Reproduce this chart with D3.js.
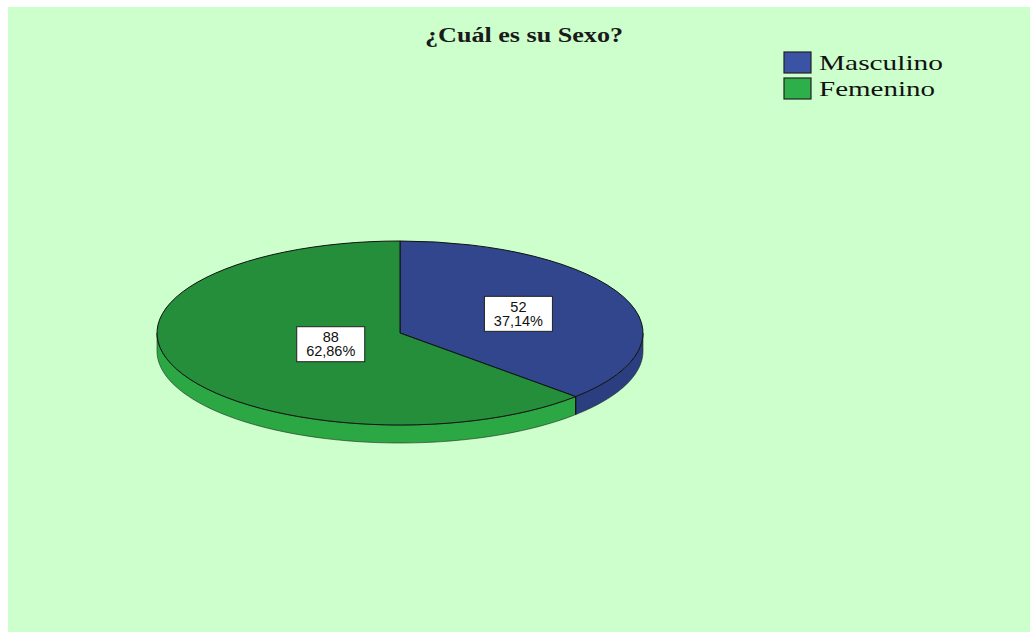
<!DOCTYPE html>
<html>
<head>
<meta charset="utf-8">
<script src="https://cdn.jsdelivr.net/npm/d3@7"></script>
<style>
  html, body { margin: 0; padding: 0; background: #ffffff; }
  svg { display: block; }
</style>
</head>
<body>
<svg id="chart" width="1030" height="633"></svg>
<script>
// ---- data ----
const title = "¿Cuál es su Sexo?";
const categories = ["Masculino", "Femenino"];
const counts = [52, 88];
const percentLabels = ["37,14%", "62,86%"];

// ---- style ----
const topColors = ["#31468C", "#248E3A"];
const sideColors = ["#2B3E80", "#2BA844"];
const legendColors = ["#3A53A4", "#2DB04A"];
const labelFrac = [0.53, 0.31];

const W = 1030, H = 633;
const svg = d3.select("#chart");

// panel
svg.append("rect").attr("x", 8).attr("y", 7).attr("width", W - 8).attr("height", H - 8)
  .attr("fill", "#CCFFCC");

// title
svg.append("text")
  .attr("x", 524).attr("y", 42)
  .attr("text-anchor", "middle")
  .attr("font-family", "Liberation Serif, Times New Roman, serif")
  .attr("font-weight", "bold")
  .attr("font-size", 20)
  .attr("textLength", 198)
  .attr("lengthAdjust", "spacingAndGlyphs")
  .attr("fill", "#1a1a1a")
  .text(title);

// pie geometry
const cx = 400, cy = 333, rx = 243, ry = 92, depth = 18;
const pie = d3.pie().sort(null).value(d => d)(counts);

const pt = a => [cx + rx * Math.sin(a), cy - ry * Math.cos(a)];

// side walls (front half: angles between PI/2 and 3PI/2)
const g = svg.append("g");
pie.forEach((p, i) => {
  const a0 = Math.max(p.startAngle, Math.PI / 2);
  const a1 = Math.min(p.endAngle, 3 * Math.PI / 2);
  if (a1 <= a0) return;
  const n = 60;
  const top = d3.range(n + 1).map(k => pt(a0 + (a1 - a0) * k / n));
  const bottom = top.slice().reverse().map(([x, y]) => [x, y + depth]);
  g.append("path")
    .attr("d", d3.line()(top.concat(bottom)) + "Z")
    .attr("fill", sideColors[i])
    .attr("stroke", "#1e2a1e")
    .attr("stroke-width", 0.6);
});

// top slices via d3.arc scaled into an ellipse
const arc = d3.arc().innerRadius(0).outerRadius(rx);
const topG = svg.append("g")
  .attr("transform", `translate(${cx},${cy}) scale(1,${ry / rx})`);
topG.selectAll("path").data(pie).join("path")
  .attr("d", arc)
  .attr("fill", (d, i) => topColors[i])
  .attr("stroke", "#111")
  .attr("stroke-width", 1)
  .attr("vector-effect", "non-scaling-stroke");

// divider edge on the side at the slice boundary that faces front
pie.forEach(p => {
  const a = p.endAngle;
  if (a > Math.PI / 2 && a < 3 * Math.PI / 2) {
    const [x, y] = pt(a);
    g.append("line").attr("x1", x).attr("y1", y).attr("x2", x).attr("y2", y + depth)
      .attr("stroke", "#111").attr("stroke-width", 1.2);
  }
});

// labels
pie.forEach((p, i) => {
  const mid = (p.startAngle + p.endAngle) / 2;
  const lx = cx + rx * labelFrac[i] * Math.sin(mid);
  const ly = cy - ry * labelFrac[i] * Math.cos(mid);
  const bw = 68, bh = 35;
  const lg = svg.append("g").attr("transform", `translate(${lx},${ly})`);
  lg.append("rect").attr("x", -bw / 2).attr("y", -bh / 2).attr("width", bw).attr("height", bh)
    .attr("fill", "#ffffff").attr("stroke", "#222").attr("stroke-width", 1);
  lg.append("text").attr("x", 0).attr("y", -2)
    .attr("text-anchor", "middle").attr("font-family", "Liberation Sans, Arial, sans-serif")
    .attr("font-size", 14.5).attr("fill", "#111").text(counts[i]);
  lg.append("text").attr("x", 0).attr("y", 12)
    .attr("text-anchor", "middle").attr("font-family", "Liberation Sans, Arial, sans-serif")
    .attr("font-size", 14.5).attr("fill", "#111").text(percentLabels[i]);
});

// legend
const legendY = d3.scalePoint().domain(categories).range([52, 78]);
const textLen = [124, 116];
const leg = svg.append("g");
categories.forEach((c, i) => {
  leg.append("rect").attr("x", 784).attr("y", legendY(c)).attr("width", 27).attr("height", 21)
    .attr("fill", legendColors[i]).attr("stroke", "#222").attr("stroke-width", 1.2);
  leg.append("text").attr("x", 819).attr("y", legendY(c) + 18)
    .attr("font-family", "Liberation Serif, Times New Roman, serif")
    .attr("font-size", 22)
    .attr("textLength", textLen[i])
    .attr("lengthAdjust", "spacingAndGlyphs")
    .attr("fill", "#111")
    .text(c);
});
</script>
</body>
</html>
